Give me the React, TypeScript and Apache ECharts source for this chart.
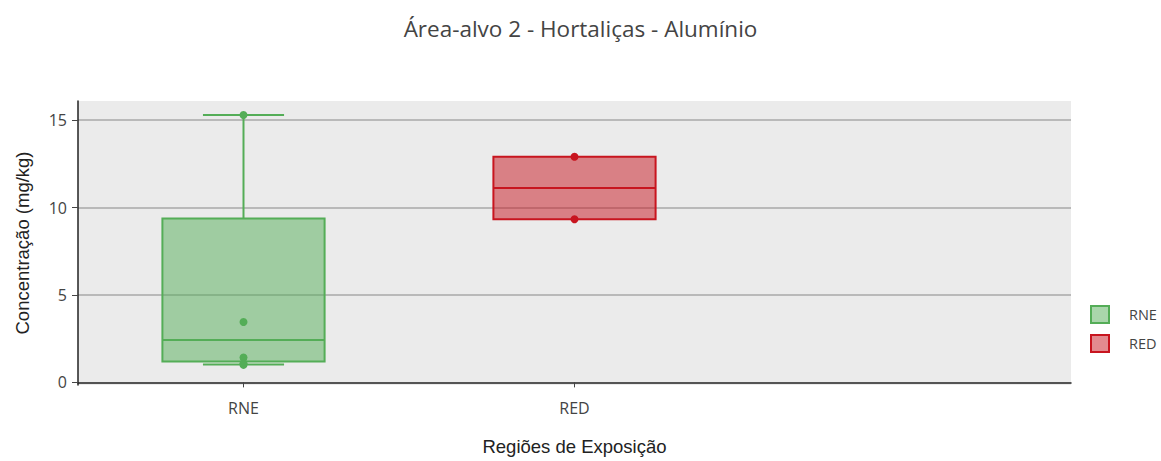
import React, { useEffect, useRef } from "react";
import * as echarts from "echarts";

const categories = ["RNE", "RED", ""];
const seriesNames = ["RNE", "RED"];
// [min, q1, median, q3, max]
const rneStats = [1.03, 1.2, 2.42, 9.37, 15.3];
const redStats = [9.33, 9.33, 11.12, 12.91, 12.91];
const rnePoints = [15.3, 3.45, 1.42, 1.1, 1.0];
const redPoints = [12.91, 9.33];
const yTicks = [0, 5, 10, 15];

const lineColors = ["#54ad57", "#c8151f"];
const fillColors = ["rgba(84,173,87,0.5)", "rgba(200,21,31,0.5)"];

export default function App() {
  const ref = useRef<HTMLDivElement>(null);
  useEffect(() => {
    document.body.style.margin = "0";
    const chart = echarts.init(ref.current!, null, { renderer: "svg" });
    const statsList = [rneStats, redStats];
    const pointsList = [rnePoints, redPoints];
    const boxSeries = statsList.map((s, i) => ({
      name: seriesNames[i],
      type: "custom",
      itemStyle: { color: fillColors[i], borderColor: lineColors[i] },
      encode: { x: 0, y: [1, 2, 3, 4, 5] },
      data: [[i, ...s]],
      z: 2,
      renderItem: (params: any, api: any) => {
        const x = api.value(0);
        const vals = [1, 2, 3, 4, 5].map((k) => api.value(k));
        const band = api.size([1, 0])[0];
        const bw = band * 0.49;
        const p = (v: number) => api.coord([x, v]);
        const cx = p(vals[0])[0];
        const yMin = p(vals[0])[1];
        const yQ1 = p(vals[1])[1];
        const yMed = p(vals[2])[1];
        const yQ3 = p(vals[3])[1];
        const yMax = p(vals[4])[1];
        const ls = { stroke: lineColors[i], lineWidth: 2 };
        const children: any[] = [
          {
            type: "rect",
            shape: { x: cx - bw / 2, y: yQ3, width: bw, height: yQ1 - yQ3 },
            style: { fill: fillColors[i], stroke: lineColors[i], lineWidth: 2 },
          },
          { type: "line", shape: { x1: cx - bw / 2, y1: yMed, x2: cx + bw / 2, y2: yMed }, style: ls },
        ];
        if (yMax < yQ3 - 0.5) {
          children.push({ type: "line", shape: { x1: cx, y1: yQ3, x2: cx, y2: yMax }, style: ls });
          children.push({ type: "line", shape: { x1: cx - bw / 4, y1: yMax, x2: cx + bw / 4, y2: yMax }, style: ls });
        }
        if (yMin > yQ1 + 0.5) {
          children.push({ type: "line", shape: { x1: cx, y1: yQ1, x2: cx, y2: yMin }, style: ls });
          children.push({ type: "line", shape: { x1: cx - bw / 4, y1: yMin, x2: cx + bw / 4, y2: yMin }, style: ls });
        }
        return { type: "group", children };
      },
    }));
    const pointSeries = pointsList.map((pts, i) => ({
      name: seriesNames[i],
      type: "scatter",
      symbolSize: 8,
      itemStyle: { color: lineColors[i], opacity: 1 },
      data: pts.map((v) => [i, v]),
      z: 3,
    }));
    chart.setOption({
      animation: false,
      title: {
        text: "Área-alvo 2 - Hortaliças - Alumínio",
        left: "center",
        top: 12,
        textStyle: { fontFamily: "Open Sans", fontSize: 22.5, fontWeight: "normal", color: "#444" },
      },
      legend: {
        orient: "vertical",
        left: 1085,
        top: 300,
        itemWidth: 18,
        itemHeight: 17,
        itemGap: 10,
        icon: "rect",
        textStyle: { fontFamily: "Open Sans", fontSize: 14.5, color: "#444", padding: [0, 0, 0, 15] },
        data: seriesNames.map((n, i) => ({
          name: n,
          itemStyle: { color: fillColors[i], borderColor: lineColors[i], borderWidth: 2 },
        })),
      },
      grid: {
        left: 78,
        right: 90,
        top: 101,
        bottom: 73,
        show: true,
        backgroundColor: "#ebebeb",
        borderWidth: 0,
      },
      xAxis: {
        type: "category",
        data: categories,
        boundaryGap: true,
        name: "Regiões de Exposição",
        nameLocation: "middle",
        nameGap: 52,
        nameTextStyle: { fontFamily: "Liberation Sans", fontSize: 18.5, color: "#222" },
        axisLine: { show: true, lineStyle: { color: "#222", width: 1.5 } },
        axisTick: {
          show: true,
          alignWithLabel: true,
          length: 5,
          interval: (idx: number, v: string) => v !== "",
          lineStyle: { color: "#444" },
        },
        axisLabel: { margin: 15, fontFamily: "Open Sans", fontSize: 16, color: "#444" },
        splitLine: { show: false },
      },
      yAxis: {
        type: "value",
        min: -0.15,
        max: 16.1,
        name: "Concentração (mg/kg)",
        nameLocation: "middle",
        nameGap: 46,
        nameTextStyle: { fontFamily: "Liberation Sans", fontSize: 18.5, color: "#222" },
        axisLine: { show: true, lineStyle: { color: "#222", width: 1.5 } },
        axisTick: { show: true, length: 6, customValues: yTicks, lineStyle: { color: "#444" } },
        axisLabel: { customValues: yTicks, margin: 11, fontFamily: "Open Sans", fontSize: 16, color: "#444" },
        splitLine: { show: true, lineStyle: { color: ["transparent", "#a8a8a8", "#a8a8a8", "#a8a8a8"], width: 1.5 } },
      },
      series: [...boxSeries, ...pointSeries],
    });
    return () => chart.dispose();
  }, []);
  return <div ref={ref} style={{ width: 1161, height: 461 }} />;
}
